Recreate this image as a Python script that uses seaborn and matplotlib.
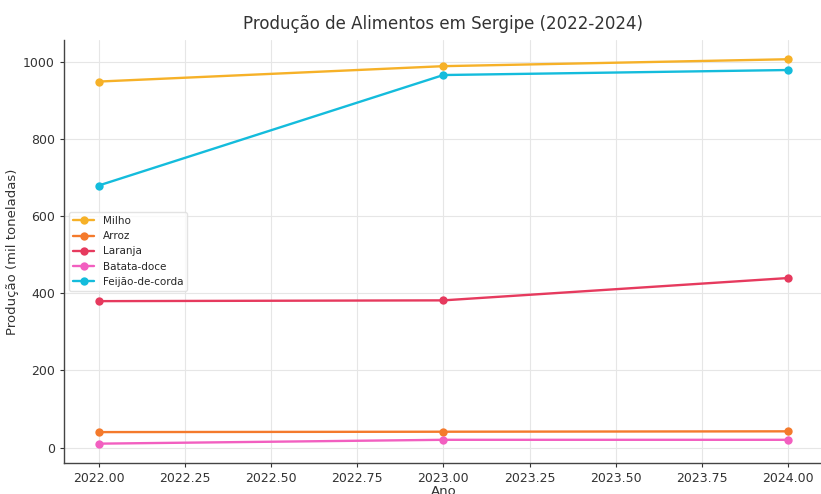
import matplotlib
matplotlib.use("Agg")
import matplotlib.pyplot as plt
import seaborn as sns
import pandas as pd

anos = [2022, 2023, 2024]
milho = [950, 990, 1008]
arroz = [40, 41, 42]
laranja = [380, 382, 440]
batata_doce = [10, 20, 20]
feijao_de_corda = [680, 967, 980]

culturas = ["Milho", "Arroz", "Laranja", "Batata-doce", "Feijão-de-corda"]
cores = ["#f6b128", "#f47a2c", "#e63a5e", "#f25fc0", "#14bcdc"]

df = pd.DataFrame({
    "Ano": anos * 5,
    "Produção": milho + arroz + laranja + batata_doce + feijao_de_corda,
    "Cultura": [c for c in culturas for _ in anos],
})

sns.set_style("whitegrid")
plt.rcParams["font.family"] = ["DejaVu Sans"]

fig = plt.figure(figsize=(8.21, 4.94), dpi=100)
ax = fig.add_axes([0.078, 0.063, 0.924, 0.856])
sns.lineplot(data=df, x="Ano", y="Produção", hue="Cultura", hue_order=culturas,
             palette=cores, marker="o", markersize=6, markeredgewidth=0,
             linewidth=1.7, ax=ax)

ax.set_title("Produção de Alimentos em Sergipe (2022-2024)", fontsize=12, color="#333333", pad=8)
ax.set_xlabel("Ano", fontsize=9.5, color="#333333", labelpad=0)
ax.set_ylabel("Produção (mil toneladas)", fontsize=9.5, color="#333333", labelpad=3)
ax.set_xticks([2022.0, 2022.25, 2022.5, 2022.75, 2023.0, 2023.25, 2023.5, 2023.75, 2024.0])
ax.set_xticklabels(["2022.00", "2022.25", "2022.50", "2022.75", "2023.00",
                    "2023.25", "2023.50", "2023.75", "2024.00"])
ax.tick_params(axis="both", labelsize=9, colors="#333333", length=3, left=True, bottom=True)
ax.grid(True, color="#e6e6e6", linewidth=0.8)
for s in ["left", "bottom"]:
    ax.spines[s].set_color("#444444")
    ax.spines[s].set_linewidth(1.0)
for s in ["top", "right"]:
    ax.spines[s].set_visible(False)

leg = ax.legend(loc="center left", fontsize=7.5, frameon=True, title=None)
leg.get_frame().set_edgecolor("#dddddd")

fig.savefig("out.png", dpi=100)
